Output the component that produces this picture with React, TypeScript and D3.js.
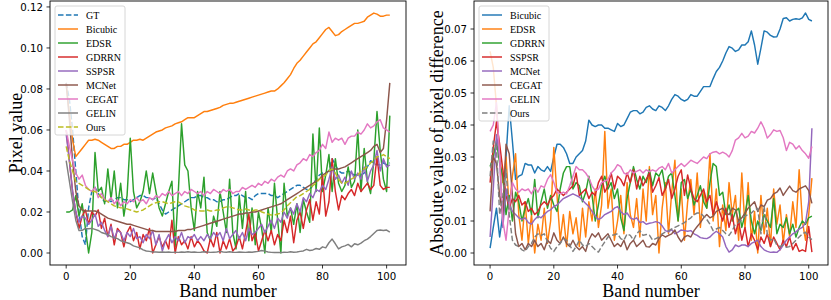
import React from 'react';
import * as d3 from 'd3';

// ---------- data: left panel (Pixel value) ----------
const bandTicks = [0, 20, 40, 60, 80, 100];
const leftYTicks = [0.0, 0.02, 0.04, 0.06, 0.08, 0.1, 0.12];
const rightYTicks = [0.0, 0.01, 0.02, 0.03, 0.04, 0.05, 0.06, 0.07];

const L_GT = [
  0.083, 0.075, 0.060, 0.040, 0.020, 0.008, 0.004, 0.022, 0.030, 0.032,
  0.029, 0.027, 0.025, 0.026, 0.025, 0.026, 0.027, 0.027, 0.026, 0.026,
  0.025, 0.026, 0.027, 0.028, 0.028, 0.027, 0.027, 0.026, 0.027, 0.024,
  0.021, 0.019, 0.020, 0.021, 0.022, 0.023, 0.024, 0.025, 0.026, 0.027,
  0.027, 0.028, 0.028, 0.027, 0.027, 0.026, 0.026, 0.025, 0.025, 0.026,
  0.026, 0.027, 0.028, 0.028, 0.029, 0.028, 0.027, 0.027, 0.026, 0.028,
  0.029, 0.029, 0.029, 0.029, 0.028, 0.028, 0.027, 0.028, 0.029, 0.030,
  0.031, 0.032, 0.033, 0.033, 0.032, 0.031, 0.031, 0.033, 0.036, 0.038,
  0.039, 0.039, 0.040, 0.046, 0.043, 0.040, 0.039, 0.039, 0.040, 0.039,
  0.038, 0.038, 0.038, 0.039, 0.042, 0.045, 0.044, 0.043, 0.043, 0.044,
  0.043, 0.044,
];
const L_Bicubic = [
  0.082, 0.068, 0.055, 0.047, 0.049, 0.051, 0.053, 0.055, 0.055, 0.0555,
  0.055, 0.054, 0.053, 0.052, 0.051, 0.051, 0.052, 0.052, 0.053, 0.053,
  0.054, 0.055, 0.055, 0.0555, 0.055, 0.056, 0.057, 0.058, 0.059, 0.0595,
  0.060, 0.061, 0.0615, 0.062, 0.063, 0.0635, 0.064, 0.065, 0.066, 0.066,
  0.066, 0.067, 0.068, 0.069, 0.069, 0.0695, 0.070, 0.0705, 0.071, 0.072,
  0.0725, 0.073, 0.073, 0.0735, 0.074, 0.0745, 0.075, 0.0755, 0.076, 0.0765,
  0.077, 0.0775, 0.078, 0.0785, 0.079, 0.079, 0.080, 0.0815, 0.083, 0.085,
  0.087, 0.090, 0.0925, 0.094, 0.096, 0.098, 0.100, 0.102, 0.103, 0.105,
  0.107, 0.109, 0.110, 0.108, 0.106, 0.1065, 0.108, 0.109, 0.110, 0.111,
  0.112, 0.112, 0.1125, 0.113, 0.115, 0.116, 0.117, 0.1165, 0.1155, 0.1155,
  0.116, 0.116,
];
const L_EDSR = [
  0.020, 0.020, 0.021, 0.028, 0.018, 0.024, 0.012, 0.000, 0.010, 0.049,
  0.030, 0.032, 0.024, 0.041, 0.026, 0.040, 0.022, 0.034, 0.018, 0.028,
  0.056, 0.030, 0.022, 0.025, 0.030, 0.040, 0.029, 0.039, 0.030, 0.022,
  0.018, 0.024, 0.030, 0.035, 0.003, 0.030, 0.063, 0.043, 0.040, 0.022,
  0.011, 0.030, 0.022, 0.037, 0.010, 0.006, 0.018, 0.013, 0.030, 0.020,
  0.010, 0.036, 0.010, 0.002, 0.028, 0.012, 0.030, 0.006, 0.022, 0.004,
  0.020, 0.012, 0.000, 0.022, 0.010, 0.034, 0.016, 0.000, 0.034, 0.018,
  0.022, 0.014, 0.024, 0.010, 0.026, 0.020, 0.015, 0.058, 0.030, 0.061,
  0.030, 0.038, 0.048, 0.030, 0.046, 0.034, 0.030, 0.033, 0.042, 0.032,
  0.035, 0.060, 0.030, 0.051, 0.035, 0.029, 0.045, 0.069, 0.050, 0.036,
  0.030, 0.067,
];
const L_GDRRN = [
  0.060, 0.045, 0.030, 0.020, 0.012, 0.018, 0.021, 0.014, 0.020, 0.018,
  0.021, 0.012, 0.017, 0.008, 0.014, 0.004, 0.012, 0.010, 0.003, 0.010,
  0.013, 0.006, 0.010, 0.002, 0.009, 0.006, 0.012, 0.000, 0.004, 0.008,
  0.003, 0.006, 0.002, 0.016, 0.000, 0.008, 0.004, 0.006, 0.002, 0.008,
  0.003, 0.006, 0.004, 0.001, 0.000, 0.007, 0.003, 0.010, 0.000, 0.006,
  0.002, 0.007, 0.001, 0.003, 0.008, 0.002, 0.010, 0.019, 0.006, 0.010,
  0.001, 0.006, 0.011, 0.006, 0.011, 0.004, 0.009, 0.006, 0.016, 0.010,
  0.018, 0.005, 0.016, 0.020, 0.012, 0.021, 0.026, 0.016, 0.025, 0.019,
  0.038, 0.018, 0.025, 0.046, 0.030, 0.021, 0.028, 0.026, 0.029, 0.031,
  0.028, 0.034, 0.030, 0.032, 0.034, 0.031, 0.033, 0.047, 0.033, 0.031,
  0.032, 0.032,
];
const L_SSPSR = [
  0.058, 0.045, 0.030, 0.020, 0.015, 0.018, 0.017, 0.014, 0.016, 0.019,
  0.013, 0.015, 0.011, 0.008, 0.013, 0.007, 0.011, 0.010, 0.006, 0.010,
  0.008, 0.012, 0.007, 0.008, 0.005, 0.009, 0.007, 0.011, 0.004, 0.009,
  0.001, 0.006, 0.009, 0.005, 0.008, 0.006, 0.010, 0.005, 0.008, 0.007,
  0.009, 0.006, 0.008, 0.006, 0.009, 0.007, 0.010, 0.008, 0.010, 0.006,
  0.012, 0.007, 0.009, 0.011, 0.007, 0.010, 0.006, 0.012, 0.009, 0.010,
  0.012, 0.014, 0.010, 0.013, 0.016, 0.012, 0.017, 0.015, 0.020, 0.017,
  0.022, 0.019, 0.024, 0.020, 0.027, 0.025, 0.029, 0.027, 0.031, 0.030,
  0.033, 0.031, 0.036, 0.042, 0.036, 0.038, 0.034, 0.037, 0.033, 0.040,
  0.036, 0.039, 0.036, 0.042, 0.035, 0.040, 0.043, 0.050, 0.040, 0.046,
  0.042, 0.043,
];
const L_MCNet = [
  0.083, 0.065, 0.045, 0.030, 0.023, 0.021, 0.0205, 0.0205, 0.0205, 0.0205,
  0.020, 0.019, 0.018, 0.017, 0.0165, 0.016, 0.0155, 0.015, 0.0145, 0.014,
  0.014, 0.0135, 0.013, 0.0125, 0.012, 0.0115, 0.011, 0.011, 0.0105, 0.0105,
  0.0105, 0.0105, 0.0105, 0.0105, 0.0105, 0.011, 0.011, 0.011, 0.0115, 0.0115,
  0.012, 0.0125, 0.013, 0.0135, 0.014, 0.0145, 0.015, 0.0155, 0.016, 0.0165,
  0.017, 0.0175, 0.018, 0.0185, 0.019, 0.019, 0.0195, 0.0195, 0.020, 0.020,
  0.0205, 0.021, 0.0215, 0.022, 0.0225, 0.023, 0.0235, 0.024, 0.025, 0.026,
  0.027, 0.028, 0.029, 0.030, 0.031, 0.032, 0.033, 0.034, 0.035, 0.036,
  0.038, 0.039, 0.040, 0.0405, 0.041, 0.041, 0.0415, 0.042, 0.043, 0.044,
  0.045, 0.046, 0.047, 0.048, 0.049, 0.050, 0.052, 0.053, 0.049, 0.051,
  0.065, 0.083,
];
const L_CEGAT = [
  0.060, 0.052, 0.045, 0.039, 0.036, 0.038, 0.033, 0.031, 0.030, 0.032,
  0.027, 0.029, 0.026, 0.025, 0.027, 0.024, 0.026, 0.023, 0.025, 0.024,
  0.026, 0.025, 0.027, 0.025, 0.026, 0.024, 0.027, 0.026, 0.028, 0.027,
  0.029, 0.028, 0.030, 0.028, 0.029, 0.030, 0.028, 0.030, 0.029, 0.031,
  0.030, 0.029, 0.030, 0.028, 0.030, 0.029, 0.031, 0.030, 0.029, 0.031,
  0.030, 0.031, 0.029, 0.030, 0.030, 0.032, 0.031, 0.032, 0.033, 0.032,
  0.034, 0.033, 0.035, 0.034, 0.036, 0.035, 0.037, 0.038, 0.037, 0.040,
  0.041, 0.040, 0.043, 0.044, 0.046, 0.045, 0.048, 0.047, 0.049, 0.050,
  0.053, 0.051, 0.059, 0.054, 0.056, 0.055, 0.056, 0.053, 0.056, 0.057,
  0.057, 0.059, 0.058, 0.060, 0.063, 0.061, 0.062, 0.064, 0.065, 0.061,
  0.060, 0.059,
];
const L_GELIN = [
  0.045, 0.035, 0.025, 0.016, 0.011, 0.011, 0.012, 0.0118, 0.012, 0.0115,
  0.011, 0.010, 0.0095, 0.009, 0.008, 0.0075, 0.007, 0.006, 0.0055, 0.005,
  0.0045, 0.0035, 0.003, 0.0025, 0.0015, 0.001, 0.0008, 0.0005, 0.0005, 0.0004,
  0.0005, 0.0004, 0.0005, 0.0003, 0.0004, 0.0003, 0.0005, 0.0004, 0.0006, 0.0004,
  0.0005, 0.0003, 0.0004, 0.0006, 0.0005, 0.0003, 0.0004, 0.0005, 0.0008, 0.0005,
  0.0004, 0.0006, 0.0004, 0.0003, 0.0005, 0.0004, 0.0003, 0.0005, 0.0004, 0.0006,
  0.0008, 0.0012, 0.0009, 0.0005, 0.0003, 0.0002, 0.0003, 0.0002, 0.0004, 0.0003,
  0.0006, 0.0004, 0.0005, 0.0008, 0.0010, 0.0018, 0.0012, 0.0015, 0.0022, 0.0018,
  0.0030, 0.0025, 0.0050, 0.0068, 0.0045, 0.0020, 0.0030, 0.0035, 0.0042, 0.0030,
  0.0045, 0.0040, 0.0048, 0.0060, 0.0068, 0.0080, 0.0095, 0.0110, 0.0112, 0.0110,
  0.0112, 0.0102,
];
const L_Ours = [
  0.052, 0.045, 0.040, 0.035, 0.034, 0.033, 0.032, 0.031, 0.030, 0.030,
  0.029, 0.027, 0.026, 0.025, 0.024, 0.023, 0.0225, 0.022, 0.022, 0.0215,
  0.021, 0.0205, 0.020, 0.0205, 0.021, 0.022, 0.023, 0.024, 0.0245, 0.025,
  0.025, 0.0245, 0.024, 0.0245, 0.025, 0.025, 0.024, 0.023, 0.0225, 0.022,
  0.021, 0.0207, 0.0205, 0.0205, 0.021, 0.0205, 0.0205, 0.021, 0.021, 0.022,
  0.0225, 0.0225, 0.022, 0.0215, 0.021, 0.021, 0.0215, 0.021, 0.0205, 0.021,
  0.021, 0.020, 0.0195, 0.019, 0.0185, 0.0185, 0.019, 0.0195, 0.021, 0.023,
  0.0245, 0.026, 0.0275, 0.028, 0.029, 0.030, 0.031, 0.033, 0.034, 0.036,
  0.037, 0.038, 0.040, 0.041, 0.039, 0.036, 0.034, 0.034, 0.035, 0.036,
  0.037, 0.038, 0.040, 0.041, 0.042, 0.044, 0.045, 0.047, 0.047, 0.048,
  0.047, 0.046,
];

// ---------- data: right panel (Absolute value of pixel difference) ----------
const R_Bicubic = [
  0.0015, 0.008, 0.014, 0.005, 0.012, 0.030, 0.046, 0.035, 0.023, 0.024,
  0.0245, 0.028, 0.0275, 0.0275, 0.025, 0.027, 0.026, 0.0255, 0.027, 0.0255,
  0.030, 0.034, 0.034, 0.033, 0.031, 0.028, 0.028, 0.030, 0.031, 0.032,
  0.035, 0.0415, 0.040, 0.0395, 0.040, 0.040, 0.039, 0.039, 0.0385, 0.038,
  0.0405, 0.0395, 0.040, 0.042, 0.044, 0.0445, 0.0445, 0.0435, 0.044, 0.0455,
  0.046, 0.045, 0.0445, 0.046, 0.0455, 0.0445, 0.046, 0.048, 0.0495, 0.049,
  0.048, 0.0475, 0.048, 0.0495, 0.049, 0.049, 0.0505, 0.052, 0.052, 0.052,
  0.0545, 0.0567, 0.058, 0.060, 0.0625, 0.0645, 0.064, 0.063, 0.0635, 0.065,
  0.065, 0.066, 0.0694, 0.065, 0.059, 0.064, 0.0694, 0.069, 0.068, 0.0675,
  0.0676, 0.070, 0.0733, 0.0735, 0.0725, 0.073, 0.0732, 0.073, 0.0735, 0.075,
  0.073, 0.0725,
];
const R_EDSR = [
  0.063, 0.058, 0.046, 0.030, 0.022, 0.030, 0.014, 0.024, 0.031, 0.012,
  0.004, 0.016, 0.003, 0.012, 0.000, 0.009, 0.004, 0.014, 0.003, 0.010,
  0.033, 0.018, 0.004, 0.012, 0.002, 0.013, 0.006, 0.011, 0.002, 0.014,
  0.005, 0.016, 0.010, 0.020, 0.008, 0.015, 0.038, 0.014, 0.020, 0.004,
  0.010, 0.018, 0.006, 0.022, 0.012, 0.008, 0.017, 0.005, 0.020, 0.010,
  0.027, 0.012, 0.018, 0.000, 0.014, 0.022, 0.006, 0.019, 0.029, 0.010,
  0.020, 0.004, 0.016, 0.023, 0.012, 0.025, 0.008, 0.019, 0.014, 0.031,
  0.010, 0.020, 0.002, 0.015, 0.007, 0.022, 0.012, 0.018, 0.004, 0.025,
  0.008, 0.022, 0.004, 0.013, 0.000, 0.018, 0.006, 0.014, 0.002, 0.020,
  0.009, 0.015, 0.003, 0.012, 0.005, 0.016, 0.008, 0.026, 0.010, 0.004,
  0.012, 0.0234,
];
const R_GDRRN = [
  0.027, 0.030, 0.035, 0.028, 0.024, 0.012, 0.018, 0.010, 0.019, 0.016,
  0.010, 0.014, 0.017, 0.012, 0.023, 0.011, 0.016, 0.020, 0.014, 0.018,
  0.015, 0.013, 0.020, 0.025, 0.027, 0.027, 0.020, 0.022, 0.021, 0.016,
  0.019, 0.024, 0.018, 0.010, 0.015, 0.021, 0.024, 0.020, 0.022, 0.017,
  0.020, 0.011, 0.007, 0.017, 0.022, 0.027, 0.023, 0.020, 0.024, 0.022,
  0.026, 0.021, 0.025, 0.024, 0.026, 0.020, 0.024, 0.025, 0.018, 0.010,
  0.022, 0.023, 0.017, 0.020, 0.015, 0.018, 0.021, 0.016, 0.014, 0.022,
  0.028, 0.027, 0.018, 0.019, 0.012, 0.015, 0.010, 0.013, 0.014, 0.008,
  0.012, 0.018, 0.010, 0.006, 0.010, 0.007, 0.012, 0.010, 0.008, 0.017,
  0.006, 0.009, 0.008, 0.011, 0.006, 0.009, 0.005, 0.008, 0.010, 0.009,
  0.011, 0.0115,
];
const R_SSPSR = [
  0.022, 0.033, 0.041, 0.034, 0.026, 0.018, 0.014, 0.017, 0.016, 0.018,
  0.015, 0.016, 0.013, 0.014, 0.012, 0.013, 0.015, 0.016, 0.015, 0.017,
  0.018, 0.020, 0.019, 0.018, 0.019, 0.020, 0.021, 0.025, 0.018, 0.019,
  0.020, 0.017, 0.019, 0.018, 0.022, 0.024, 0.019, 0.021, 0.025, 0.020,
  0.024, 0.023, 0.021, 0.025, 0.022, 0.026, 0.020, 0.024, 0.021, 0.023,
  0.025, 0.019, 0.021, 0.0236, 0.018, 0.020, 0.023, 0.017, 0.020, 0.024,
  0.026, 0.018, 0.0244, 0.020, 0.017, 0.016, 0.018, 0.020, 0.016, 0.018,
  0.012, 0.016, 0.013, 0.010, 0.014, 0.008, 0.012, 0.006, 0.010, 0.004,
  0.008, 0.002, 0.006, 0.004, 0.001, 0.005, 0.003, 0.006, 0.002, 0.005,
  0.003, 0.001, 0.004, 0.002, 0.005, 0.001, 0.003, 0.0005, 0.001, 0.0005,
  0.0083, 0.0003,
];
const R_MCNet = [
  0.005, 0.020, 0.037, 0.030, 0.008, 0.020, 0.015, 0.013, 0.012, 0.011,
  0.0105, 0.011, 0.0095, 0.009, 0.0105, 0.0115, 0.011, 0.012, 0.013, 0.0135,
  0.0145, 0.015, 0.016, 0.017, 0.0175, 0.018, 0.0185, 0.018, 0.0175, 0.0165,
  0.0155, 0.0145, 0.013, 0.0115, 0.0105, 0.011, 0.012, 0.0125, 0.013, 0.014,
  0.0145, 0.013, 0.012, 0.0125, 0.011, 0.0105, 0.011, 0.0095, 0.0098, 0.009,
  0.0093, 0.0095, 0.0098, 0.0095, 0.0085, 0.007, 0.0066, 0.0073, 0.006, 0.0065,
  0.0072, 0.007, 0.0068, 0.007, 0.006, 0.0055, 0.0048, 0.0046, 0.0045, 0.005,
  0.006, 0.0068, 0.006, 0.005, 0.002, 0.0003, 0.001, 0.0025, 0.002, 0.0025,
  0.0025, 0.002, 0.003, 0.0035, 0.004, 0.002, 0.001, 0.0005, 0.0002, 0.0003,
  0.0002, 0.001, 0.0025, 0.004, 0.005, 0.006, 0.0066, 0.0075, 0.008, 0.0094,
  0.016, 0.039,
];
const R_CEGAT = [
  0.013, 0.030, 0.028, 0.018, 0.012, 0.034, 0.031, 0.018, 0.006, 0.002,
  0.003, 0.001, 0.003, 0.002, 0.004, 0.002, 0.003, 0.001, 0.004, 0.003,
  0.0063, 0.004, 0.003, 0.005, 0.003, 0.002, 0.004, 0.002, 0.001, 0.002,
  0.0005, 0.004, 0.006, 0.005, 0.0063, 0.004, 0.005, 0.006, 0.004, 0.002,
  0.003, 0.002, 0.004, 0.001, 0.003, 0.004, 0.002, 0.003, 0.004, 0.002,
  0.0019, 0.003, 0.0025, 0.0045, 0.0057, 0.005, 0.0055, 0.006, 0.0072, 0.005,
  0.0035, 0.005, 0.0055, 0.005, 0.007, 0.0083, 0.0095, 0.011, 0.012, 0.011,
  0.0115, 0.013, 0.0135, 0.014, 0.0125, 0.012, 0.014, 0.0135, 0.010, 0.011,
  0.0125, 0.014, 0.015, 0.016, 0.013, 0.015, 0.0145, 0.0165, 0.017, 0.0185,
  0.019, 0.0203, 0.018, 0.0195, 0.0209, 0.0195, 0.019, 0.020, 0.0205, 0.021,
  0.0195, 0.0155,
];
const R_GELIN = [
  0.038, 0.040, 0.047, 0.030, 0.010, 0.004, 0.014, 0.022, 0.020, 0.019,
  0.020, 0.0195, 0.020, 0.0185, 0.0205, 0.019, 0.021, 0.0205, 0.023, 0.0245,
  0.022, 0.019, 0.0185, 0.019, 0.0185, 0.021, 0.024, 0.027, 0.026, 0.026,
  0.025, 0.0235, 0.021, 0.0195, 0.020, 0.022, 0.0225, 0.023, 0.025, 0.026,
  0.0276, 0.027, 0.025, 0.0245, 0.026, 0.025, 0.0255, 0.026, 0.025, 0.026,
  0.0254, 0.026, 0.0255, 0.0265, 0.027, 0.026, 0.028, 0.025, 0.026, 0.027,
  0.028, 0.027, 0.028, 0.029, 0.0285, 0.028, 0.029, 0.030, 0.0295, 0.031,
  0.0315, 0.0317, 0.031, 0.0315, 0.031, 0.030, 0.032, 0.0353, 0.036, 0.0374,
  0.036, 0.0365, 0.038, 0.0375, 0.039, 0.041, 0.039, 0.0359, 0.037, 0.0385,
  0.038, 0.0383, 0.036, 0.032, 0.0346, 0.034, 0.0325, 0.0335, 0.032, 0.031,
  0.0296, 0.0333,
];
const R_Ours = [
  0.024, 0.035, 0.033, 0.012, 0.018, 0.026, 0.012, 0.004, 0.0025, 0.002,
  0.001, 0.0005, 0.002, 0.003, 0.005, 0.006, 0.0055, 0.006, 0.0035, 0.0015,
  0.0005, 0.002, 0.003, 0.0045, 0.004, 0.0025, 0.0005, 0.002, 0.004, 0.0025,
  0.002, 0.003, 0.002, 0.001, 0.0003, 0.002, 0.0035, 0.005, 0.0055, 0.0057,
  0.006, 0.0045, 0.004, 0.006, 0.0055, 0.004, 0.006, 0.007, 0.0055, 0.0058,
  0.0056, 0.004, 0.0045, 0.005, 0.006, 0.0065, 0.007, 0.0075, 0.008, 0.0085,
  0.009, 0.0095, 0.0103, 0.011, 0.012, 0.0125, 0.0125, 0.0115, 0.0105, 0.009,
  0.007, 0.0075, 0.008, 0.007, 0.006, 0.0055, 0.007, 0.009, 0.0095, 0.0105,
  0.0115, 0.012, 0.0125, 0.0135, 0.0139, 0.006, 0.0146, 0.006, 0.004, 0.0045,
  0.0025, 0.002, 0.0025, 0.0018, 0.002, 0.003, 0.004, 0.005, 0.006, 0.0065,
  0.005, 0.0042,
];

type Series = { name: string; values: number[]; color: string; dash?: boolean };

const leftSeries: Series[] = [
  { name: 'GT', values: L_GT, color: '#1f77b4', dash: true },
  { name: 'Bicubic', values: L_Bicubic, color: '#ff7f0e' },
  { name: 'EDSR', values: L_EDSR, color: '#2ca02c' },
  { name: 'GDRRN', values: L_GDRRN, color: '#d62728' },
  { name: 'SSPSR', values: L_SSPSR, color: '#9467bd' },
  { name: 'MCNet', values: L_MCNet, color: '#8c564b' },
  { name: 'CEGAT', values: L_CEGAT, color: '#e377c2' },
  { name: 'GELIN', values: L_GELIN, color: '#7f7f7f' },
  { name: 'Ours', values: L_Ours, color: '#bcbd22', dash: true },
];
const rightSeries: Series[] = [
  { name: 'Bicubic', values: R_Bicubic, color: '#1f77b4' },
  { name: 'EDSR', values: R_EDSR, color: '#ff7f0e' },
  { name: 'GDRRN', values: R_GDRRN, color: '#2ca02c' },
  { name: 'SSPSR', values: R_SSPSR, color: '#d62728' },
  { name: 'MCNet', values: R_MCNet, color: '#9467bd' },
  { name: 'CEGAT', values: R_CEGAT, color: '#8c564b' },
  { name: 'GELIN', values: R_GELIN, color: '#e377c2' },
  { name: 'Ours', values: R_Ours, color: '#7f7f7f', dash: true },
];

const TICK_FONT = 'DejaVu Sans, sans-serif';
const SERIF = 'Liberation Serif, Times New Roman, serif';
const DASH = '5.5,2.4';

type PanelProps = {
  id: string;
  series: Series[];
  x0: number; x1: number; y0: number; y1: number;
  yDomain: [number, number];
  yTicks: number[];
  yLabel: string;
  yLabelX: number;
  legendW: number;
};

function Panel(p: PanelProps) {
  const x = d3.scaleLinear().domain([-5.05, 106.05]).range([p.x0, p.x1]);
  const y = d3.scaleLinear().domain(p.yDomain).range([p.y1, p.y0]);
  const line = d3.line<number>().x((_, i) => x(i)).y((v) => y(v));
  const fmt = d3.format('.2f');
  const legX = p.x0 + 5;
  const legY = p.y0 + 5;
  const legH = p.series.length * 14 + 3;
  const cx = (p.x0 + p.x1) / 2;
  const cy = (p.y0 + p.y1) / 2;
  return (
    <g>
      <defs>
        <clipPath id={p.id}>
          <rect x={p.x0} y={p.y0} width={p.x1 - p.x0} height={p.y1 - p.y0} />
        </clipPath>
      </defs>
      <g clipPath={`url(#${p.id})`}>
        {p.series.map((s) => (
          <path key={s.name} d={line(s.values) || ''} fill="none" stroke={s.color}
            strokeWidth={1.45} strokeDasharray={s.dash ? DASH : undefined}
            strokeLinejoin="round" />
        ))}
      </g>
      <rect x={p.x0} y={p.y0} width={p.x1 - p.x0} height={p.y1 - p.y0}
        fill="none" stroke="#000" strokeWidth={0.9} />
      {bandTicks.map((t) => (
        <g key={'x' + t}>
          <line x1={x(t)} x2={x(t)} y1={p.y1} y2={p.y1 + 3.5} stroke="#000" strokeWidth={0.8} />
          <text x={x(t)} y={p.y1 + 15} textAnchor="middle" fontFamily={TICK_FONT} fontSize={10.2} fill="#000">{t}</text>
        </g>
      ))}
      {p.yTicks.map((t) => (
        <g key={'y' + t}>
          <line x1={p.x0 - 3.5} x2={p.x0} y1={y(t)} y2={y(t)} stroke="#000" strokeWidth={0.8} />
          <text x={p.x0 - 7} y={y(t) + 3.8} textAnchor="end" fontFamily={TICK_FONT} fontSize={10.2} fill="#000">{fmt(t)}</text>
        </g>
      ))}
      <text x={cx} y={297} textAnchor="middle" fontFamily={SERIF} fontSize={18} fill="#000">Band number</text>
      <text transform={`translate(${p.yLabelX},${cy}) rotate(-90)`} textAnchor="middle" fontFamily={SERIF} fontSize={18} fill="#000">{p.yLabel}</text>
      <rect x={legX} y={legY} width={p.legendW} height={legH} rx={2} fill="#fff" fillOpacity={0.8} stroke="#cccccc" strokeWidth={0.8} />
      {p.series.map((s, i) => {
        const ly = legY + 9 + i * 14;
        return (
          <g key={'l' + s.name}>
            <line x1={legX + 3} x2={legX + 23} y1={ly} y2={ly} stroke={s.color} strokeWidth={1.45}
              strokeDasharray={s.dash ? DASH : undefined} />
            <text x={legX + 31} y={ly + 3.5} fontFamily={SERIF} fontSize={10} fill="#000">{s.name}</text>
          </g>
        );
      })}
    </g>
  );
}

export default function App() {
  return (
    <svg width={831} height={300} style={{ position: 'absolute', left: 0, top: 0, background: '#fff' }}>
      <Panel id="clipL" series={leftSeries} x0={50} x1={406} y0={1} y1={265}
        yDomain={[-0.00585, 0.1229]} yTicks={leftYTicks} yLabel="Pixel value" yLabelX={22} legendW={70} />
      <Panel id="clipR" series={rightSeries} x0={474} x1={828} y0={1} y1={265}
        yDomain={[-0.00375, 0.07875]} yTicks={rightYTicks} yLabel="Absolute value of pixel difference" yLabelX={443} legendW={70} />
    </svg>
  );
}
